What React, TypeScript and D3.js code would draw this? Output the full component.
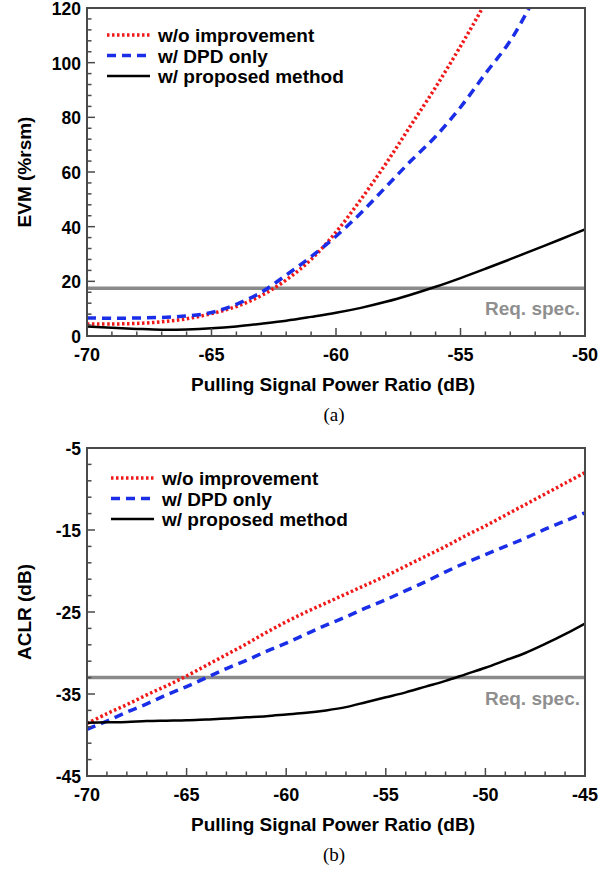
import { useEffect, useRef } from 'react';
import * as d3 from 'd3';

// (a) EVM vs pulling signal power ratio
const xEvm = [-70, -69, -68, -67, -66, -65, -64, -63, -62, -61, -60, -59, -58, -57, -56, -55, -54, -53, -52, -51, -50];
const evmNoImp = [4.4, 4.4, 4.6, 5.2, 6.3, 8.2, 10.8, 14.8, 20.5, 28, 38, 50, 63, 77, 91, 106, 122, 140, 160, 180, 200];
const evmDpd = [6.6, 6.5, 6.6, 6.8, 7.3, 8.6, 11.6, 16, 22.3, 29, 36.5, 45, 54.5, 64, 73, 83.7, 96, 108, 124, 140, 156];
const evmProp = [3.5, 3.0, 2.6, 2.3, 2.4, 2.8, 3.5, 4.5, 5.6, 7.0, 8.5, 10.3, 12.5, 15.1, 18.0, 21.2, 24.6, 28.1, 31.7, 35.3, 39.0];
const evmSpec = 17.5;

// (b) ACLR vs pulling signal power ratio
const xAclr = [-70, -69, -68, -67, -66, -65, -64, -63, -62, -61, -60, -59, -58, -57, -56, -55, -54, -53, -52, -51, -50, -49, -48, -47, -46, -45];
const aclrNoImp = [-38.6, -37.4, -36.3, -35.1, -34.0, -32.8, -31.5, -30.2, -28.9, -27.5, -26.2, -25.0, -23.9, -22.8, -21.7, -20.6, -19.4, -18.2, -17.0, -15.7, -14.5, -13.2, -11.9, -10.6, -9.3, -8.0];
const aclrDpd = [-39.3, -38.3, -37.2, -36.2, -35.1, -34.1, -33.0, -31.9, -30.9, -29.8, -28.8, -27.7, -26.6, -25.6, -24.5, -23.5, -22.4, -21.3, -20.1, -19.0, -18.0, -17.0, -16.0, -14.9, -13.9, -12.9];
const aclrProp = [-38.5, -38.45, -38.4, -38.3, -38.25, -38.2, -38.1, -38.0, -37.85, -37.7, -37.5, -37.3, -37.0, -36.6, -36.0, -35.4, -34.8, -34.1, -33.4, -32.6, -31.8, -30.9, -30.0, -28.9, -27.7, -26.4];
const aclrSpec = -33;

const legendLabels = ['w/o improvement', 'w/ DPD only', 'w/ proposed method'];
const seriesStyles = [
  { color: '#f01818', width: 3.5, dash: '2.5,2.5' },
  { color: '#1a2ee8', width: 3.5, dash: '9,6' },
  { color: '#000000', width: 2.5, dash: null },
];

const FONT = 'Liberation Sans, Arial, sans-serif';

function drawPanel(svg, cfg) {
  const { top, xDomain, yDomain, xMajor, xMinor, yMajor, yMinor, xs, series, spec, yTitle, caption, legendY, legendX } = cfg;
  const left = 87, right = 585, bottom = top + 328;
  const x = d3.scaleLinear().domain(xDomain).range([left, right]);
  const y = d3.scaleLinear().domain(yDomain).range([bottom, top]);
  const g = svg.append('g');
  const clipId = 'clip' + top;
  g.append('clipPath').attr('id', clipId).append('rect')
    .attr('x', left).attr('y', top).attr('width', right - left).attr('height', bottom - top);

  // spec line
  g.append('line')
    .attr('x1', left).attr('x2', right).attr('y1', y(spec)).attr('y2', y(spec))
    .attr('stroke', '#8a8a8a').attr('stroke-width', 3.5);
  g.append('text')
    .attr('x', right - 5).attr('y', y(spec) + 27)
    .attr('text-anchor', 'end').attr('fill', '#8f8f8f')
    .style('font-family', FONT).style('font-weight', 'bold').style('font-size', '19px')
    .text('Req. spec.');

  // curves
  const line = d3.line().x((d) => x(d[0])).y((d) => y(d[1])).curve(d3.curveCatmullRom.alpha(0.5));
  series.forEach((vals, i) => {
    const st = seriesStyles[i];
    g.append('path')
      .attr('clip-path', `url(#${clipId})`)
      .attr('d', line(xs.map((v, j) => [v, vals[j]])))
      .attr('fill', 'none')
      .attr('stroke', st.color)
      .attr('stroke-width', st.width)
      .attr('stroke-dasharray', st.dash);
  });

  // frame
  g.append('rect')
    .attr('x', left).attr('y', top).attr('width', right - left).attr('height', bottom - top)
    .attr('fill', 'none').attr('stroke', '#4a4a4a').attr('stroke-width', 2);

  // ticks (inward)
  d3.range(xDomain[0], xDomain[1] + 0.001, xMinor).forEach((v) => {
    const major = Math.abs(Math.round(v / xMajor) * xMajor - v) < 1e-6;
    g.append('line').attr('x1', x(v)).attr('x2', x(v)).attr('y1', bottom).attr('y2', bottom - (major ? 8 : 4.5))
      .attr('stroke', '#4a4a4a').attr('stroke-width', 1.5);
  });
  d3.range(yDomain[0], yDomain[1] + 0.001, yMinor).forEach((v) => {
    const major = Math.abs(Math.round((v - yDomain[0]) / yMajor) * yMajor - (v - yDomain[0])) < 1e-6;
    g.append('line').attr('x1', left).attr('x2', left + (major ? 8 : 4.5)).attr('y1', y(v)).attr('y2', y(v))
      .attr('stroke', '#4a4a4a').attr('stroke-width', 1.5);
  });

  // tick labels
  d3.range(xDomain[0], xDomain[1] + 0.001, xMajor).forEach((v) => {
    g.append('text').attr('x', x(v)).attr('y', bottom + 25).attr('text-anchor', 'middle')
      .style('font-family', FONT).style('font-weight', 'bold').style('font-size', '18px')
      .text(v);
  });
  d3.range(yDomain[0], yDomain[1] + 0.001, yMajor).forEach((v) => {
    g.append('text').attr('x', left - 6).attr('y', y(v) + 7).attr('text-anchor', 'end')
      .style('font-family', FONT).style('font-weight', 'bold').style('font-size', '17.5px')
      .text(v);
  });

  // axis titles
  g.append('text').attr('x', (left + right) / 2 - 3).attr('y', bottom + 55).attr('text-anchor', 'middle')
    .style('font-family', FONT).style('font-weight', 'bold').style('font-size', '19px')
    .text('Pulling Signal Power Ratio (dB)');
  g.append('text')
    .attr('transform', `translate(31, ${(top + bottom) / 2}) rotate(-90)`)
    .attr('text-anchor', 'middle')
    .style('font-family', FONT).style('font-weight', 'bold').style('font-size', '19px')
    .text(yTitle);
  g.append('text').attr('x', (left + right) / 2 - 2).attr('y', bottom + 85).attr('text-anchor', 'middle')
    .style('font-family', 'Liberation Serif, Times New Roman, serif').style('font-size', '19px')
    .text(caption);

  // legend
  legendLabels.forEach((lab, i) => {
    const st = seriesStyles[i];
    const ly = legendY + i * 20.5;
    g.append('line').attr('x1', legendX).attr('x2', legendX + 43).attr('y1', ly).attr('y2', ly)
      .attr('stroke', st.color).attr('stroke-width', st.width).attr('stroke-dasharray', st.dash);
    g.append('text').attr('x', legendX + 51).attr('y', ly + 7)
      .style('font-family', FONT).style('font-weight', 'bold').style('font-size', '19px')
      .text(lab);
  });
}

const App = () => {
  const svgRef = useRef(null);

  useEffect(() => {
    if (svgRef.current) {
      const svg = d3.select(svgRef.current);
      svg.selectAll('*').remove();

      drawPanel(svg, {
        top: 8, xDomain: [-70, -50], yDomain: [0, 120], xMajor: 5, xMinor: 1, yMajor: 20, yMinor: 4,
        xs: xEvm, series: [evmNoImp, evmDpd, evmProp], spec: evmSpec,
        yTitle: 'EVM (%rsm)', caption: '(a)', legendY: 35, legendX: 107,
      });
      drawPanel(svg, {
        top: 448, xDomain: [-70, -45], yDomain: [-45, -5], xMajor: 5, xMinor: 1, yMajor: 10, yMinor: 2,
        xs: xAclr, series: [aclrNoImp, aclrDpd, aclrProp], spec: aclrSpec,
        yTitle: 'ACLR (dB)', caption: '(b)', legendY: 478, legendX: 111,
      });
    }
  }, []);

  return (
    <svg ref={svgRef} width={610} height={869} style={{ position: 'absolute', left: 0, top: 0, background: '#fff' }} />
  );
};

export default App;
